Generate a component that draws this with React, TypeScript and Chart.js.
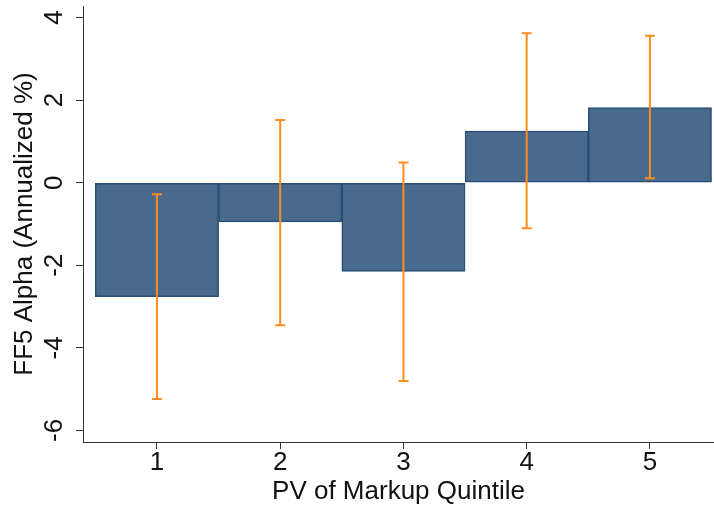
import React, { useEffect, useRef } from "react";
import { Chart, registerables } from "chart.js";

Chart.register(...registerables);

// ---- Data ----
const quintiles = [1, 2, 3, 4, 5];
const alphaValues = [-2.76, -0.95, -2.15, 1.25, 1.82];
const ciLower = [-5.24, -3.45, -4.8, -1.1, 0.11];
const ciUpper = [-0.28, 1.52, 0.49, 3.62, 3.56];
const yTickValues = [-6, -4, -2, 0, 2, 4];
const xTickValues = [1, 2, 3, 4, 5];
const xTitle = "PV of Markup Quintile";
const yTitle = "FF5 Alpha (Annualized %)";

const FONT = "'Liberation Sans', Arial, Helvetica, sans-serif";
const AXIS_COLOR = "#333333";
const TEXT_COLOR = "#111111";
const BAR_FILL = "#486b8d";
const BAR_BORDER = "#2a4d73";
const ERR_COLOR = "#ff8c1e";

const errorBarPlugin = {
  id: "errorBars",
  afterDatasetsDraw(chart: any) {
    const { ctx, scales } = chart;
    const xs = scales.x;
    const ys = scales.y;
    ctx.save();
    ctx.strokeStyle = ERR_COLOR;
    ctx.lineWidth = 2;
    const cap = 5;
    quintiles.forEach((q, i) => {
      const x = xs.getPixelForValue(q);
      const yLo = ys.getPixelForValue(ciLower[i]);
      const yHi = ys.getPixelForValue(ciUpper[i]);
      ctx.beginPath();
      ctx.moveTo(x, yLo);
      ctx.lineTo(x, yHi);
      ctx.moveTo(x - cap, yLo);
      ctx.lineTo(x + cap, yLo);
      ctx.moveTo(x - cap, yHi);
      ctx.lineTo(x + cap, yHi);
      ctx.stroke();
    });
    ctx.restore();
  },
};

export default function App() {
  const canvasRef = useRef<HTMLCanvasElement | null>(null);

  useEffect(() => {
    const canvas = canvasRef.current;
    if (!canvas) return;
    const chart = new Chart(canvas, {
      type: "bar",
      data: {
        datasets: [
          {
            data: quintiles.map((q, i) => ({ x: q, y: alphaValues[i] })),
            backgroundColor: BAR_FILL,
            borderColor: BAR_BORDER,
            borderWidth: 1.5,
            borderSkipped: false,
            barPercentage: 1,
            categoryPercentage: 1,
          },
        ],
      },
      options: {
        responsive: false,
        animation: false,
        layout: { padding: { top: 6, left: 0, right: 0, bottom: 0 } },
        plugins: {
          legend: { display: false },
          tooltip: { enabled: false },
        },
        scales: {
          x: {
            type: "linear",
            min: 0.4,
            max: 5.52,
            offset: false,
            afterBuildTicks: (s: any) => {
              s.ticks = xTickValues.map((v) => ({ value: v }));
            },
            border: { display: true, color: AXIS_COLOR, width: 1 },
            grid: {
              offset: false,
              drawOnChartArea: false,
              drawTicks: true,
              tickLength: 7,
              color: AXIS_COLOR,
            },
            ticks: {
              autoSkip: false,
              maxRotation: 0,
              minRotation: 0,
              padding: -2,
              color: TEXT_COLOR,
              font: { family: FONT, size: 26 },
            },
            title: {
              display: true,
              text: xTitle,
              color: TEXT_COLOR,
              font: { family: FONT, size: 26 },
              padding: { top: 0, bottom: 5 },
            },
            afterFit: (s: any) => {
              s.height = 70;
              s.paddingLeft = 0;
              s.paddingRight = 0;
              s.paddingTop = 0;
              s.paddingBottom = 0;
            },
          },
          y: {
            min: -6.28,
            max: 4.28,
            afterBuildTicks: (s: any) => {
              s.ticks = yTickValues.map((v) => ({ value: v }));
            },
            border: { display: true, color: AXIS_COLOR, width: 1 },
            grid: {
              drawOnChartArea: false,
              drawTicks: true,
              tickLength: 7,
              color: AXIS_COLOR,
            },
            ticks: {
              minRotation: 90,
              maxRotation: 90,
              crossAlign: "center",
              padding: 10,
              color: TEXT_COLOR,
              font: { family: FONT, size: 26 },
            },
            title: {
              display: true,
              text: yTitle,
              color: TEXT_COLOR,
              font: { family: FONT, size: 26 },
              padding: { top: 9, bottom: 0 },
            },
            afterFit: (s: any) => {
              s.width = 83;
              s.paddingLeft = 0;
              s.paddingRight = 0;
              s.paddingTop = 0;
              s.paddingBottom = 0;
            },
          },
        },
      },
      plugins: [errorBarPlugin],
    } as any);
    return () => chart.destroy();
  }, []);

  return (
    <div style={{ position: "fixed", left: 0, top: 0, width: 714, height: 512, background: "#ffffff" }}>
      <canvas ref={canvasRef} width={714} height={512} style={{ display: "block" }} />
    </div>
  );
}
